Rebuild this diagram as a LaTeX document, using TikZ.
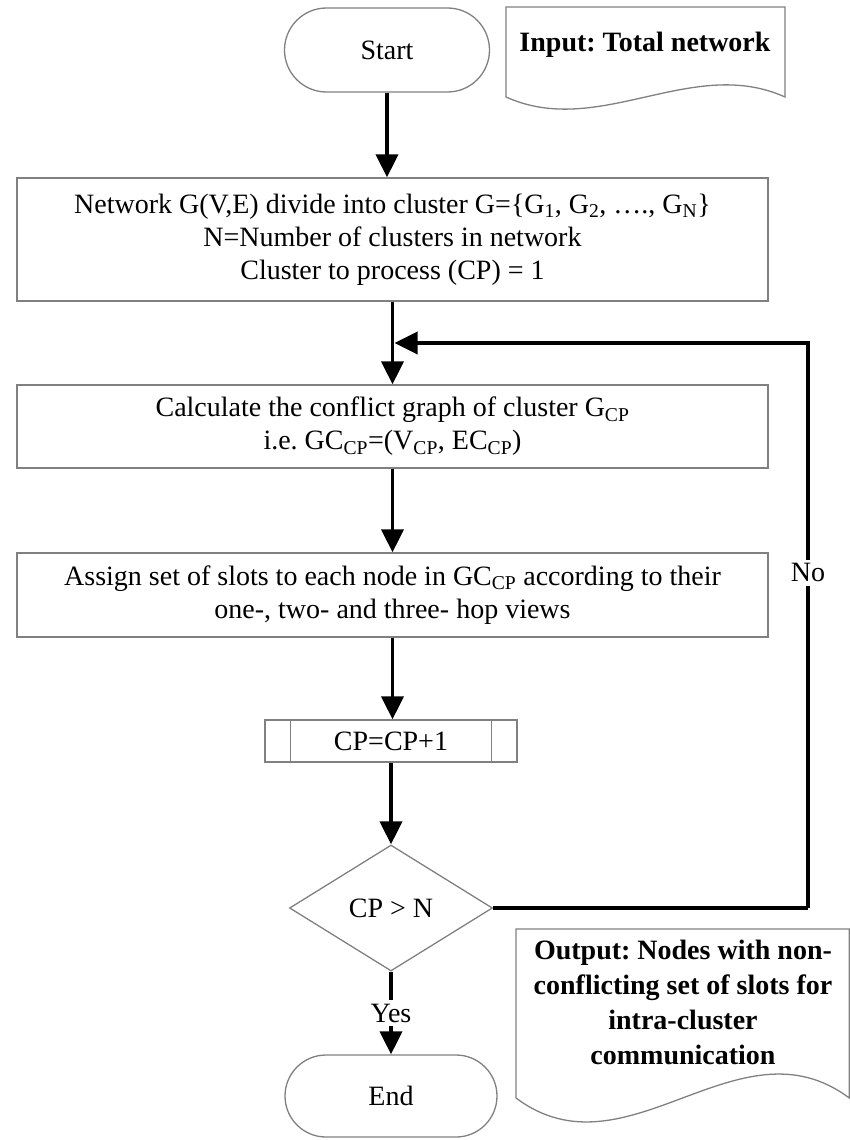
\documentclass[tikz,border=0pt]{standalone}
\usepackage{fontspec}
\setmainfont{Liberation Serif}
\usetikzlibrary{shapes.geometric,shapes.misc,arrows.meta}
\frenchspacing
\begin{document}
\begin{tikzpicture}[x=1pt,y=-1pt,
  every node/.style={font=\fontsize{28}{33}\selectfont},
  boxline/.style={draw=black!50,line width=1.3pt},
  procbox/.style={boxline,rectangle,minimum width=751pt,align=center,inner sep=0pt},
  terminal/.style={boxline,rounded rectangle,minimum width=205pt,minimum height=84pt,inner sep=0pt},
  decision/.style={boxline,diamond,minimum width=203pt,minimum height=126pt,inner sep=0pt},
  subproc/.style={boxline,rectangle,minimum width=252pt,minimum height=42pt,inner sep=0pt},
  flow/.style={line width=3.6pt,-{Triangle[width=22pt,length=23pt]}},
  flowplain/.style={line width=3.6pt},
  gaplabel/.style={fill=white,inner sep=4pt},
  doctext/.style={font=\fontsize{28}{35}\selectfont\bfseries,align=center}
]
\useasboundingbox (0,0) rectangle (850,1140);

% terminals, process boxes and decision
\node[terminal] (start) at (387,50) {Start};
\node[procbox,minimum height=123pt] (b1) at (392.5,239.5)
  {Network G(V,E) divide into cluster G=\{G\textsubscript{1}, G\textsubscript{2}, …., G\textsubscript{N}\}\\
   N=Number of clusters in network\\
   Cluster to process (CP) = 1};
\node[procbox,minimum height=83pt] (b2) at (392.5,426.5)
  {Calculate the conflict graph of cluster G\textsubscript{CP}\\
   i.e. GC\textsubscript{CP}=(V\textsubscript{CP}, EC\textsubscript{CP})};
\node[procbox,minimum height=84pt] (b3) at (392.5,595)
  {Assign set of slots to each node in GC\textsubscript{CP} according to their\\
   one-, two- and three- hop views};
\node[subproc] (cp) at (391,741) {CP=CP+1};
\draw[boxline] ([xshift=26pt]cp.north west) -- ([xshift=26pt]cp.south west)
               ([xshift=-26pt]cp.north east) -- ([xshift=-26pt]cp.south east);
\node[decision] (dec) at (391,908) {CP > N};
\node[terminal,minimum width=212pt,minimum height=82pt] (stop) at (391,1096) {End};

% document symbols (input and output)
\draw[boxline] (506,7) -- (506,97)
  .. controls (599,139) and (692,55) .. (785,97) -- (785,7) -- cycle;
\node[doctext] (inp) at (645,45) {Input: Total network};
\draw[boxline] (516,929) -- (516,1098)
  .. controls (627,1181) and (738,1015) .. (849.3,1098) -- (849.3,929) -- cycle;
\node[doctext] (outp) at (683,1002)
  {Output: Nodes with non-\\conflicting set of slots for\\intra-cluster\\communication};

% connectors
\draw[flow] (start.south) -- (start.south |- b1.north);
\draw[flow] (b1.south) -- (b2.north);
\draw[flow] (b2.south) -- (b3.north);
\draw[flow] (b3.south) -- (cp.north -| b3.south);
\draw[flow] (cp.south) -- (dec.north);
\draw[flow] (dec.south) -- node[gaplabel] {Yes} (stop.north);
\coordinate (loopdown) at (808,908);
\coordinate (loopup) at (808,343);
\coordinate (loopin) at (394.5,343);
\draw[flowplain] (dec.east) -- (loopdown);
\draw[flow] (loopdown) -- node[gaplabel,pos=0.593] {No} (loopup) -- (loopin);
\end{tikzpicture}
\end{document}
